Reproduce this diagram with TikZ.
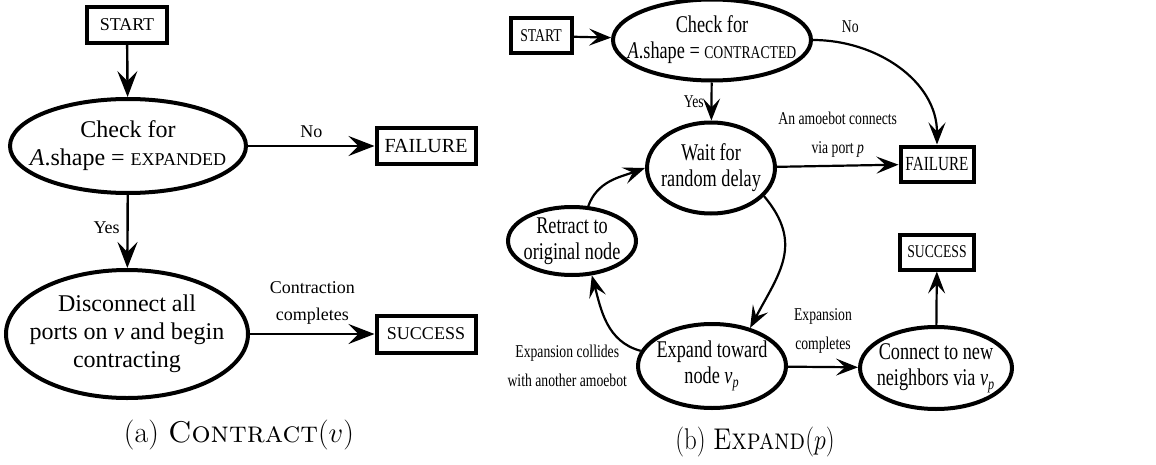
\documentclass[tikz,border=0pt]{standalone}
\usepackage{fontspec}
\usepackage{graphicx}
\newfontfamily\timesfont{Liberation Serif}
\newfontfamily\narrowfont{Liberation Serif}[FakeStretch=0.76]
\usetikzlibrary{shapes.geometric,arrows.meta}
\tikzset{ell/.style={ellipse,draw,line width=2pt,inner sep=0pt},
  term/.style={rectangle,draw,line width=2pt,inner sep=0pt},
  etxt/.style={align=center,font=\timesfont\fontsize{12}{14}\selectfont},
  ntxt/.style={align=center,font=\narrowfont\fontsize{12}{13}\selectfont},
  lbl/.style={align=center,font=\timesfont\fontsize{9}{13.5}\selectfont},
  nlbl/.style={align=center,font=\narrowfont\fontsize{9}{14.5}\selectfont},
  flow/.style={line width=1.2pt,-{Stealth[length=13pt,width=10pt,inset=5pt]}},
  nflow/.style={line width=1.1pt,-{Stealth[length=11pt,width=8.5pt,inset=4.5pt]}}}

\begin{document}
\begin{tikzpicture}[x=0.5pt,y=-0.5pt]
    \useasboundingbox (0,0) rectangle (1156,465);
    % (a) contract
    \node[term,minimum width=40pt,minimum height=18pt,font=\timesfont\fontsize{9}{10}\selectfont] (s1) at (127,25) {START};
    \node[ell,minimum width=118pt,minimum height=47pt,label={[etxt]center:Check for\\\textit{A}.shape = {\fontsize{9}{10}\selectfont EXPANDED}}] (c1) at (128,146) {};
    \node[term,minimum width=49.5pt,minimum height=18pt,font=\timesfont\fontsize{10}{11}\selectfont] (f1) at (426,146) {FAILURE};
    \node[ell,minimum width=121pt,minimum height=64pt,label={[etxt]center:Disconnect all\\ports on \textit{v} and begin\\contracting}] (d1) at (127,334) {};
    \node[term,minimum width=49.5pt,minimum height=18.5pt,font=\timesfont\fontsize{9}{10}\selectfont] (u1) at (426,334) {SUCCESS};
    \node[font=\fontsize{15}{17}\selectfont] (capa) at (239,435) {(a) \textsc{Contract}($v$)};

    \draw [flow] (s1) to []node[]{} (c1);
    \draw [flow] (c1) to []node[lbl,above]{No} (f1);
    \draw [flow] (c1) to []node[lbl,left,pos=0.45]{Yes} (d1);
    \draw [flow] (d1) to []node[lbl,above,yshift=1pt]{Contraction\\completes} (u1);

    % (b) expand
    \node[term,minimum width=30.5pt,minimum height=17.5pt,font=\narrowfont\fontsize{9}{10}\selectfont] (s2) at (541,36) {START};
    \node[ell,minimum width=99pt,minimum height=40.5pt,label={[ntxt]center:Check for\\\textit{A}.shape = {\fontsize{9}{10}\selectfont CONTRACTED}}] (c2) at (712,40) {};
    \node[term,minimum width=36.5pt,minimum height=17.5pt,font=\narrowfont\fontsize{10}{11}\selectfont] (f2) at (937,164) {FAILURE};
    \node[ell,minimum width=64pt,minimum height=45.5pt,label={[ntxt]center:Wait for\\random delay}] (w2) at (711,168) {};
    \node[ell,minimum width=64pt,minimum height=34pt,label={[ntxt]center:Retract to\\original node}] (r2) at (572,241) {};
    \node[ell,minimum width=74pt,minimum height=42pt,label={[ntxt]center:Expand toward\\node \textit{v}\textsubscript{\textit{p}}}] (e2) at (712,366) {};
    \node[ell,minimum width=76pt,minimum height=41pt,label={[ntxt]center:Connect to new\\neighbors via \textit{v}\textsubscript{\textit{p}}}] (n2) at (936,368) {};
    \node[term,minimum width=37pt,minimum height=17.5pt,font=\narrowfont\fontsize{9}{10}\selectfont] (u2) at (937,252) {SUCCESS};
    \node[font=\fontsize{15}{17}\selectfont] (capb) at (755,442) {\scalebox{0.83}[1]{(b) \textsc{Expand}($p$)}};

    \draw [nflow] (s2) to []node[]{} (c2);
    \draw [nflow] (c2.east) to [out=0,in=90]node[nlbl,above,pos=0.2,yshift=2pt]{No} (f2.north);
    \draw [nflow] (c2) to []node[nlbl,left]{Yes} (w2);
    \draw [nflow] (w2) to []node[nlbl,above,yshift=0.5pt]{An amoebot connects\\via port \textit{p}} (f2);
    \draw [nflow] (w2.-28) to [out=-50,in=62,looseness=1.2]node[]{} (e2.45);
    \draw [nflow] (e2.168) to [out=165,in=-75]node[nlbl,pos=0,anchor=east,xshift=-3pt,yshift=-7.5pt]{Expansion collides\\with another amoebot} (r2.-60);
    \draw [nflow] (r2.65) to [out=70,in=200]node[]{} (w2.west);
    \draw [nflow] (e2) to []node[nlbl,above,yshift=3pt]{Expansion\\completes} (n2);
    \draw [nflow] (n2) to []node[]{} (u2);
\end{tikzpicture}
\end{document}
